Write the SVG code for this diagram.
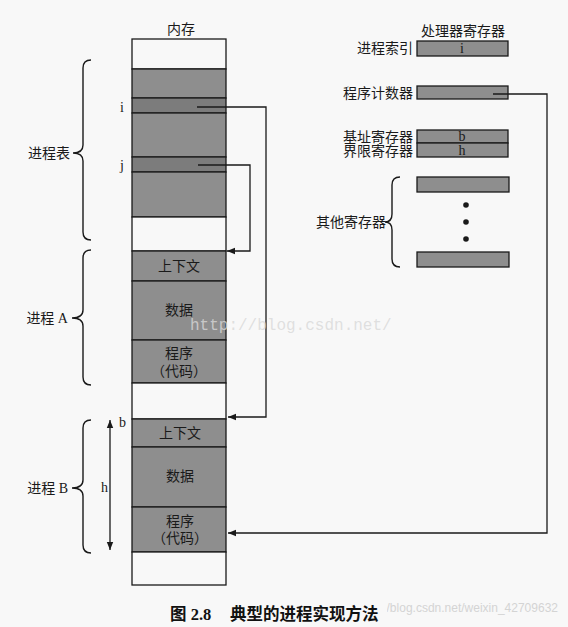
<svg xmlns="http://www.w3.org/2000/svg" width="568" height="627" viewBox="0 0 568 627">
<defs>
<style>
.t{font-family:"Liberation Serif","Noto Sans CJK SC",serif;font-size:14px;fill:#1a1a1a}
.c{text-anchor:middle}
.r{text-anchor:end}
.sh{fill:#8e8e8e;stroke:#1a1a1a;stroke-width:1.3}
.shd{fill:#7c7c7c;stroke:#1a1a1a;stroke-width:1.3}
.wh{fill:#f8f8f8;stroke:#1a1a1a;stroke-width:1.3}
.ln{fill:none;stroke:#1a1a1a;stroke-width:1.3}
.br{fill:none;stroke:#1a1a1a;stroke-width:1.4}
.wm{font-family:"Liberation Mono",monospace;font-size:16px;fill:#d8d8d8;fill-opacity:0.8}
.cap{font-family:"Liberation Serif","Noto Sans CJK SC",serif;font-size:16.5px;font-weight:bold;fill:#111}
</style>
<marker id="ah" viewBox="0 0 10 10" refX="10" refY="5" markerWidth="8" markerHeight="8" orient="auto-start-reverse" markerUnits="userSpaceOnUse">
<path d="M0,1 L10,5 L0,9 Z" fill="#1a1a1a"/>
</marker>
</defs>
<rect width="568" height="627" fill="#f8f8f8"/>

<text x="558" y="612" text-anchor="end" style="font-family:'Liberation Sans',sans-serif;font-size:12px;fill:#d4d4d4">https://blog.csdn.net/weixin_42709632</text>

<g id="memory">
<text class="t c" x="181" y="34">内存</text>
<rect class="wh" x="132" y="39" width="94" height="30"/>
<rect class="sh" x="132" y="69" width="94" height="29"/>
<rect class="shd" x="132" y="98" width="94" height="15"/>
<rect class="sh" x="132" y="113" width="94" height="44"/>
<rect class="shd" x="132" y="157" width="94" height="15"/>
<rect class="sh" x="132" y="172" width="94" height="45"/>
<rect class="wh" x="132" y="217" width="94" height="34"/>
<text class="t" x="120" y="112">i</text>
<text class="t" x="120" y="170">j</text>
</g>

<g id="processA">
<rect class="sh" x="132" y="251" width="94" height="30"/>
<rect class="sh" x="132" y="281" width="94" height="59"/>
<rect class="sh" x="132" y="340" width="94" height="43"/>
<text class="t c" x="179" y="271">上下文</text>
<text class="t c" x="179" y="315">数据</text>
<text class="t c" x="179" y="358">程序</text>
<text class="t c" x="179" y="376">（代码）</text>
<rect class="wh" x="132" y="383" width="94" height="36"/>
</g>

<g id="processB">
<rect class="sh" x="132" y="419" width="94" height="28"/>
<rect class="sh" x="132" y="447" width="94" height="60"/>
<rect class="sh" x="132" y="507" width="94" height="45"/>
<text class="t c" x="180" y="438">上下文</text>
<text class="t c" x="180" y="481">数据</text>
<text class="t c" x="180" y="526">程序</text>
<text class="t c" x="180" y="543">（代码）</text>
<rect class="wh" x="132" y="552" width="94" height="33"/>
</g>

<g id="braces">
<path class="br" d="M91,60 Q83,60 83,68 L83,145 Q83,153 73,153 Q83,153 83,161 L83,232 Q83,240 91,240"/>
<text class="t r" x="70" y="158">进程表</text>
<path class="br" d="M91,250 Q83,250 83,258 L83,310 Q83,318 72,318 Q83,318 83,326 L83,377 Q83,385 91,385"/>
<text class="t r" x="68" y="323">进程 A</text>
<path class="br" d="M91,420 Q83,420 83,428 L83,480 Q83,488 72,488 Q83,488 83,496 L83,545 Q83,553 91,553"/>
<text class="t r" x="68" y="493">进程 B</text>
<path class="br" d="M400,177 Q392,177 392,185 L392,214 Q392,222 385,222 Q392,222 392,230 L392,259 Q392,267 400,267"/>
<text class="t r" x="386" y="227">其他寄存器</text>
</g>

<g id="registers">
<text class="t c" x="463" y="36">处理器寄存器</text>
<rect class="sh" x="417" y="41" width="91" height="15"/>
<text class="t c" x="462" y="53">i</text>
<text class="t r" x="413" y="53">进程索引</text>
<rect class="sh" x="417" y="86" width="91" height="13"/>
<text class="t r" x="413" y="98">程序计数器</text>
<rect class="sh" x="417" y="130" width="91" height="13"/>
<text class="t c" x="462" y="141">b</text>
<text class="t r" x="413" y="142">基址寄存器</text>
<rect class="sh" x="417" y="143" width="91" height="14"/>
<text class="t c" x="462" y="155">h</text>
<text class="t r" x="413" y="156">界限寄存器</text>
<rect class="sh" x="417" y="177" width="92" height="15"/>
<circle cx="466" cy="205" r="2.8" fill="#1a1a1a"/>
<circle cx="466" cy="222" r="2.8" fill="#1a1a1a"/>
<circle cx="466" cy="239" r="2.8" fill="#1a1a1a"/>
<rect class="sh" x="417" y="252" width="92" height="15"/>
</g>

<g id="connectors">
<polyline class="ln" points="197,107 266,107 266,417 228,417" marker-end="url(#ah)"/>
<polyline class="ln" points="198,165 250,165 250,251 227,251" marker-end="url(#ah)"/>
<polyline class="ln" points="493,94 547,94 547,533 228,533" marker-end="url(#ah)"/>
<line class="ln" x1="110" y1="420" x2="110" y2="550" marker-start="url(#ah)" marker-end="url(#ah)"/>
<text class="t" x="119" y="427">b</text>
<text class="t" x="101" y="492">h</text>
</g>

<g id="caption">
<rect x="165" y="598" width="222" height="24" fill="#f8f8f8"/>
<text class="cap" x="170" y="620">图 2.8</text>
<text class="cap" x="230" y="620">典型的进程实现方法</text>
</g>

<text class="wm" x="190" y="330">http://blog.csdn.net/</text>
</svg>
